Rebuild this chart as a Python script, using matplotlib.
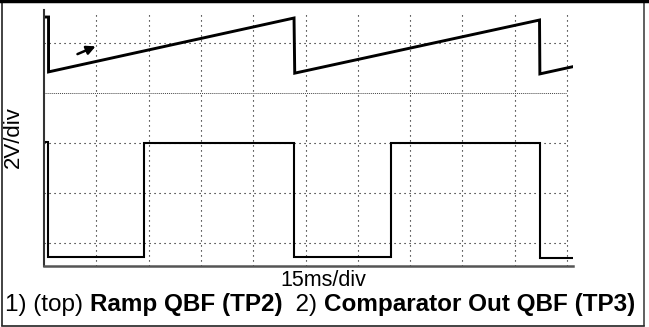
import matplotlib.pyplot as plt
from matplotlib.lines import Line2D

plt.rcParams['font.family'] = ['Liberation Sans', 'DejaVu Sans']

# trace 1 (top): ramp, time in ms, level in volts
ramp_t = [0.0, 1.3, 1.3, 71.7, 71.9, 142.1, 142.2, 151.4]
ramp_v = [11.03, 11.03, 8.84, 10.99, 8.79, 10.91, 8.76, 9.04]

# trace 2: comparator output
comp_t = [0.3, 1.2, 1.2, 28.6, 28.6, 71.6, 71.6, 99.5, 99.5, 142.1, 142.1, 151.4]
comp_v = [6.04, 6.04, 1.47, 1.47, 6.02, 6.02, 1.47, 1.47, 6.02, 6.02, 1.43, 1.43]

# scope graticule
t_grid = [15, 30, 45, 60, 75, 90, 105, 120, 135, 150]
v_grid = [2, 4, 6, 10]
v_marker = 8  # channel 1 reference line

arrow_from = (9.6, 9.55)
arrow_to = (14.8, 9.86)

x_title = '15ms/div'
y_title = '2V/div'
caption = [('1) (top) ', 'normal'), ('Ramp QBF (TP2)', 'bold'), ('  2) ', 'normal'),
           ('Comparator Out QBF (TP3)', 'bold')]

W, H = 649, 327
fig = plt.figure(figsize=(W / 100, H / 100), dpi=100)

ax = fig.add_axes([44 / W, (H - 265.5) / H, (573 - 44) / W, (265.5 - 10) / H])
ax.set_xlim(0, 151.7)
ax.set_ylim(1.114, 11.31)

ax.vlines(t_grid, 1.114, 11.2, colors='black', linewidth=0.8, linestyles=(0, (1, 3.5)))
ax.hlines(v_grid, 0, 150, colors='black', linewidth=0.8, linestyles=(0, (1, 3.5)))
ax.hlines(v_marker, 0, 150, colors='#444444', linewidth=0.7, linestyles=(0, (1, 1)))

ax.plot(ramp_t, ramp_v, color='black', linewidth=2.1, solid_joinstyle='miter')
ax.plot(comp_t, comp_v, color='black', linewidth=1.5, solid_joinstyle='miter')

ax.annotate('', xy=arrow_to, xytext=arrow_from,
            arrowprops=dict(arrowstyle='-|>', color='black', lw=1.8, mutation_scale=13,
                            shrinkA=0, shrinkB=0))

ax.set_xticks([])
ax.set_yticks([])
ax.spines['top'].set_visible(False)
ax.spines['right'].set_visible(False)
ax.spines['left'].set_color('#333333')
ax.spines['left'].set_linewidth(1.5)
ax.spines['bottom'].set_color('#555555')
ax.spines['bottom'].set_linewidth(1.8)

fig.text(13 / W, 1 - 137 / H, y_title, rotation=90, ha='center', va='center', fontsize=16)
fig.text(323 / W, 1 - 286 / H, x_title, ha='center', va='baseline', fontsize=15.5)

# caption with bold parts, each piece placed after the previous one
fig.canvas.draw()
r = fig.canvas.get_renderer()
x = 5
for txt, wt in caption:
    t = fig.text(x / W, 1 - 311 / H, txt, fontsize=17.5, fontweight=wt, va='baseline')
    x += t.get_window_extent(renderer=r).width

# outer frame
fig.add_artist(Line2D([2 / W, 2 / W], [0.005, 1], color='#222222', linewidth=1.2))
fig.add_artist(Line2D([643.5 / W, 643.5 / W], [0.005, 1], color='#444444', linewidth=1.2))
fig.add_artist(Line2D([0, 1], [1 - 1 / H, 1 - 1 / H], color='black', linewidth=2.5))
fig.add_artist(Line2D([2 / W, 643.5 / W], [1.5 / H, 1.5 / H], color='#222222', linewidth=1.2))

fig.savefig('out.png', dpi=100)
